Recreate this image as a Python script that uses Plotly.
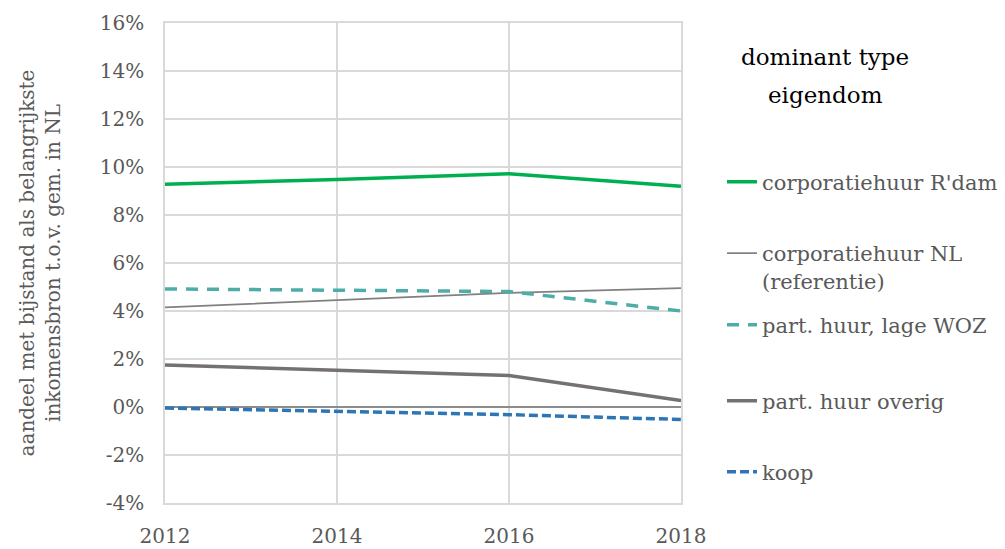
import plotly.graph_objects as go

years = [2012, 2014, 2016, 2018]
corp_rdam = [9.28, 9.48, 9.72, 9.20]
corp_nl = [4.15, 4.44, 4.76, 4.95]
part_lage_woz = [4.92, 4.87, 4.81, 4.00]
part_overig = [1.75, 1.52, 1.31, 0.27]
koop = [-0.04, -0.18, -0.32, -0.52]

y_tickvals = [-4, -2, 0, 2, 4, 6, 8, 10, 12, 14, 16]
y_ticktext = ["-4%", "-2%", "0%", "2%", "4%", "6%", "8%", "10%", "12%", "14%", "16%"]
x_tickvals = [2012, 2014, 2016, 2018]

FONT = "DejaVu Serif"
GRID = "#D9D9D9"
TXT = "#595959"

series = [
    ("corporatiehuur R'dam", corp_rdam, dict(color="#00B050", width=3.5), "legend", 182),
    ("corporatiehuur NL<br>(referentie)", corp_nl, dict(color="#808080", width=1.75), "legend2", 267),
    ("part. huur, lage WOZ", part_lage_woz, dict(color="#4FADA9", width=3.5, dash="12px,9px"), "legend3", 325),
    ("part. huur overig", part_overig, dict(color="#767171", width=3.5), "legend4", 401),
    ("koop", koop, dict(color="#2E75B6", width=3.5, dash="9px,4px"), "legend5", 472),
]

PLOT_L, PLOT_R, PLOT_T, PLOT_B = 165, 681, 23, 503
W, H = 1005, 549

def px_to_paper_y(py):
    return (PLOT_B - py) / (PLOT_B - PLOT_T)

def px_to_paper_x(px):
    return (px - PLOT_L) / (PLOT_R - PLOT_L)

fig = go.Figure()
layout_legends = {}
for name, vals, line, lg, ypx in series:
    fig.add_trace(go.Scatter(x=years, y=vals, mode="lines", name=name, line=line,
                             legend=lg, showlegend=True))
    layout_legends[lg] = dict(
        x=px_to_paper_x(722), xanchor="left",
        y=px_to_paper_y(ypx), yanchor="middle",
        bgcolor="rgba(0,0,0,0)",
        font=dict(family=FONT, size=21, color=TXT),
        valign="top", itemwidth=30,
    )

fig.update_layout(
    width=W, height=H,
    margin=dict(l=PLOT_L, r=W - PLOT_R, t=PLOT_T, b=H - PLOT_B, autoexpand=False),
    paper_bgcolor="white", plot_bgcolor="white",
    font=dict(family=FONT, size=19, color=TXT),
    **layout_legends,
)

fig.update_xaxes(
    range=[2012, 2018], tickvals=x_tickvals, showgrid=True, gridcolor=GRID, gridwidth=1.5,
    showline=True, linecolor=GRID, linewidth=1.5, mirror=True, zeroline=False,
    tickfont=dict(family=FONT, size=20, color=TXT), ticks="", ticklabelstandoff=14,
)
fig.update_yaxes(
    range=[-4, 16], tickvals=y_tickvals, ticktext=y_ticktext, showgrid=True,
    gridcolor=GRID, gridwidth=1.5, showline=True, linecolor=GRID, linewidth=1.5, mirror=True,
    zeroline=True, zerolinecolor="#8C8C8C", zerolinewidth=1.5,
    tickfont=dict(family=FONT, size=20, color=TXT), ticks="", ticklabelstandoff=15,
    title=dict(text="aandeel met bijstand als belangrijkste<br>inkomensbron t.o.v. gem. in NL",
               font=dict(family=FONT, size=20, color=TXT), standoff=34),
)

fig.add_annotation(xref="paper", yref="paper", x=px_to_paper_x(825), y=px_to_paper_y(57),
                   text="dominant type", showarrow=False, xanchor="center", yanchor="middle",
                   font=dict(family=FONT, size=23, color="#000000"))
fig.add_annotation(xref="paper", yref="paper", x=px_to_paper_x(825), y=px_to_paper_y(95),
                   text="eigendom", showarrow=False, xanchor="center", yanchor="middle",
                   font=dict(family=FONT, size=23, color="#000000"))

fig.write_html("out.html")
